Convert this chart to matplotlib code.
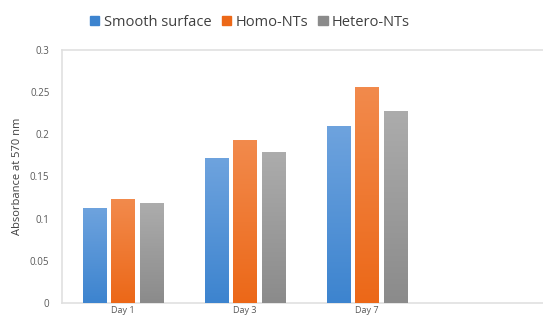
import numpy as np
import matplotlib.pyplot as plt
from matplotlib.colors import LinearSegmentedColormap

days = ['Day 1', 'Day 3', 'Day 7']
series = ['Smooth surface', 'Homo-NTs', 'Hetero-NTs']
smooth = [0.113, 0.172, 0.210]
homo = [0.123, 0.193, 0.256]
hetero = [0.118, 0.179, 0.228]

# (top colour, bottom colour) for the gradient fill
colors = [('#6ea3de', '#3d84cf'), ('#f28a4c', '#ec6818'), ('#acacac', '#8b8b8b')]

plt.rcParams['font.family'] = ['Open Sans', 'DejaVu Sans']

fig = plt.figure(figsize=(5.43, 3.18), dpi=100)
ax = fig.add_axes([62 / 543, 1 - 303 / 318, 488 / 543, 253 / 318])

x = np.arange(len(days))
width = 0.19
step = 0.234
for i, (name, vals) in enumerate(zip(series, [smooth, homo, hetero])):
    top, bottom = colors[i]
    bars = ax.bar(x + (i - 1) * step, vals, width, color=bottom, label=name, zorder=2)
    cmap = LinearSegmentedColormap.from_list(name, [bottom, top])
    for b in bars:
        x0, y0, w, h = b.get_x(), b.get_y(), b.get_width(), b.get_height()
        im = ax.imshow(np.linspace(0, 1, 100).reshape(-1, 1), cmap=cmap, aspect='auto',
                       origin='lower', extent=(x0, x0 + w, y0, y0 + h), zorder=3)
        im.set_clip_path(b)

ax.set_xlim(-0.5, 3.5)
ax.set_ylim(0, 0.3)
ax.set_yticks([0, 0.05, 0.1, 0.15, 0.2, 0.25, 0.3])
ax.set_yticklabels(['0', '0.05', '0.1', '0.15', '0.2', '0.25', '0.3'])
ax.set_xticks(x)
ax.set_xticklabels(days)
ax.tick_params(length=0, labelsize=7, colors='#595959', pad=9)
ax.tick_params(axis='x', pad=2, labelsize=6.5)
for s in ax.spines.values():
    s.set_color('#e0e0e0')
    s.set_linewidth(1.2)
ax.set_ylabel('Absorbance at 570 nm', fontsize=8, color='#404040', labelpad=5)

handles = [plt.Rectangle((0, 0), 1, 1, color=c[1]) for c in colors]
fig.legend(handles, series, loc='center', bbox_to_anchor=(250 / 543, 1 - 22 / 318),
           ncol=3, frameon=False, fontsize=10.5, handlelength=0.65, handleheight=0.65,
           handletextpad=0.3, columnspacing=0.7, labelcolor='#404040')

fig.savefig('out.png', dpi=100)
